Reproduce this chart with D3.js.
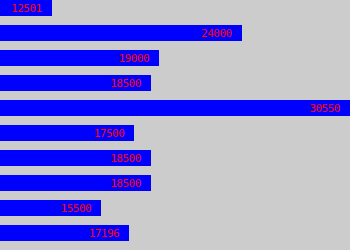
<!DOCTYPE html>
<html>
<head>
<meta charset="utf-8">
<script src="https://cdn.jsdelivr.net/npm/d3@7"></script>
<style>
    body { margin: 0; background: #cccccc; }
    svg { display: block; }
</style>
</head>
<body>
<div id="chart"></div>
<script>
// values, top to bottom
let categories = ["r0", "r1", "r2", "r3", "r4", "r5", "r6", "r7", "r8", "r9"];
let values = [12501, 24000, 19000, 18500, 30550, 17500, 18500, 18500, 15500, 17196];

let width = 350,
    height = 250;

let svg = d3.select("#chart").append("svg")
    .attr("width", width)
    .attr("height", height);

svg.append("rect")
    .attr("width", width)
    .attr("height", height)
    .attr("fill", "#cccccc");

// scale does not start at zero
let x = d3.scaleLinear()
    .domain([d3.min(values) * 0.75, d3.max(values)])
    .range([0, width]);

// 25px step, 16px bars, leftover space at the bottom
let y = d3.scaleBand()
    .domain(categories)
    .range([0, height])
    .paddingInner(0.36)
    .paddingOuter(0.18)
    .align(0);

let rows = svg.selectAll(".row")
    .data(values)
    .enter()
    .append("g")
    .attr("class", "row")
    .attr("transform", (d, i) => `translate(0, ${y(categories[i])})`);

rows.append("rect")
    .attr("x", 0)
    .attr("width", d => x(d))
    .attr("height", y.bandwidth())
    .attr("fill", "#0000ff")
    .attr("shape-rendering", "crispEdges");

rows.append("text")
    .attr("x", d => x(d) - 10)
    .attr("y", y.bandwidth() / 2)
    .attr("dy", "0.38em")
    .attr("text-anchor", "end")
    .style("font-family", "DejaVu Sans Mono, monospace")
    .style("font-size", "11px")
    .style("letter-spacing", "-0.5px")
    .attr("fill", "#ff0000")
    .text(d => d);
</script>
</body>
</html>
